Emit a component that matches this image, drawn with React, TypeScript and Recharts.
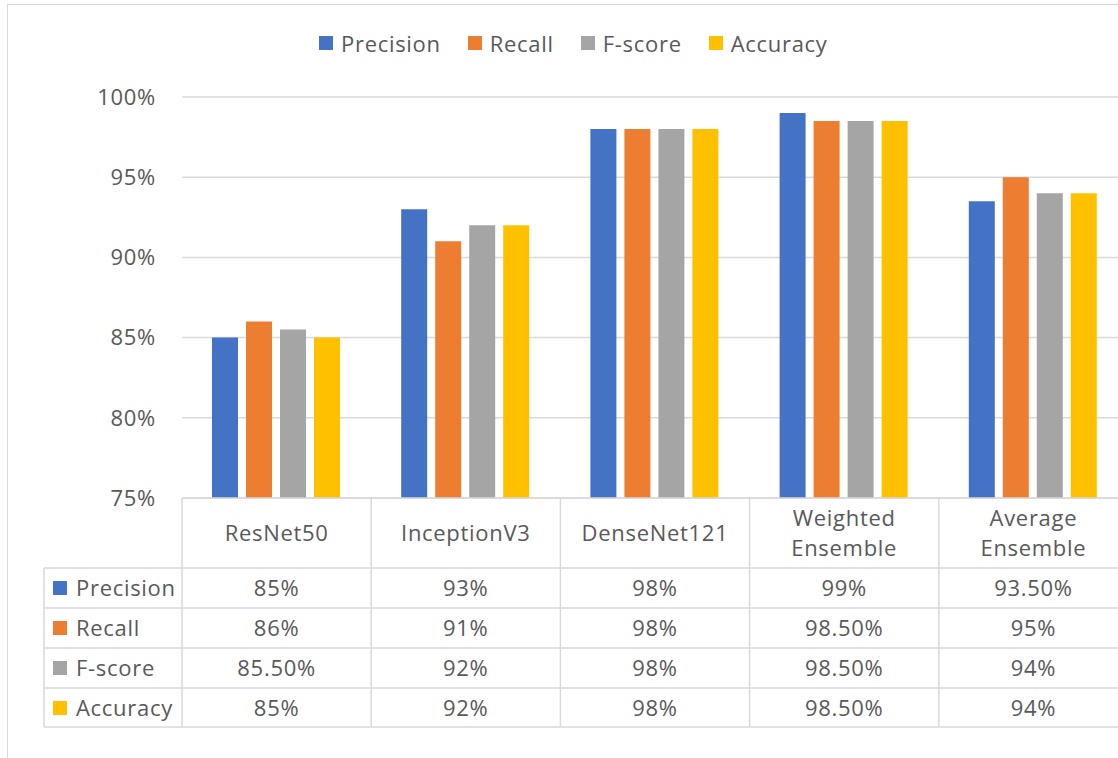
import { BarChart, Bar, XAxis, YAxis, CartesianGrid } from 'recharts';

const categories = ['ResNet50', 'InceptionV3', 'DenseNet121', 'Weighted Ensemble', 'Average Ensemble'];
const precision = [85, 93, 98, 99, 93.5];
const recall = [86, 91, 98, 98.5, 95];
const fScore = [85.5, 92, 98, 98.5, 94];
const accuracy = [85, 92, 98, 98.5, 94];
const yTicks = [75, 80, 85, 90, 95, 100];

const series = [
  { key: 'precision', name: 'Precision', color: '#4472C4', values: precision },
  { key: 'recall', name: 'Recall', color: '#ED7D31', values: recall },
  { key: 'fScore', name: 'F-score', color: '#A5A5A5', values: fScore },
  { key: 'accuracy', name: 'Accuracy', color: '#FFC000', values: accuracy },
];

const data = categories.map((name, i) => {
  const row: Record<string, any> = { name };
  series.forEach((s) => (row[s.key] = s.values[i]));
  return row;
});

// layout
const W = 1140;
const H = 758;
const AXIS_W = 182;
const PLOT_RIGHT = 1128;
const BAND = (PLOT_RIGHT - AXIS_W) / categories.length;
const TABLE_H = 229;
const HEADER_H = 70;
const ROW_H = 40;
const TABLE_LEFT = 44;

const FONT = '"Open Sans", sans-serif';
const FS = 22;
const LS = 0.7;
const TEXT = '#595959';
const LINE = '#D9D9D9';

const fmt = (v: number) => (Number.isInteger(v) ? `${v}%` : `${v.toFixed(2)}%`);

function TableTick(props: any) {
  const { x, y, payload, index } = props;
  const left = x - BAND / 2;
  const right = x + BAND / 2;
  const words: string[] = String(payload.value).split(' ');
  const rowLines = [0, 1, 2, 3, 4].map((i) => y + HEADER_H + i * ROW_H - (i === 4 ? 1 : 0));
  const rowMid = (i: number) => y + HEADER_H + i * ROW_H + ROW_H / 2 - 1;

  return (
    <g fontFamily={FONT} fontSize={FS} fill={TEXT} letterSpacing={LS}>
      {index === 0 && (
        <g>
          <line x1={left} x2={left} y1={y} y2={y + TABLE_H} stroke={LINE} strokeWidth={1.5} />
          <line x1={TABLE_LEFT} x2={TABLE_LEFT} y1={y + HEADER_H} y2={y + TABLE_H} stroke={LINE} strokeWidth={1.5} />
          {rowLines.map((ly, i) => (
            <line key={i} x1={TABLE_LEFT} x2={left} y1={ly} y2={ly} stroke={LINE} strokeWidth={1.5} />
          ))}
          {series.map((s, i) => (
            <g key={s.key}>
              <rect x={TABLE_LEFT + 9} y={rowMid(i) - 6} width={14} height={14} fill={s.color} />
              <text x={TABLE_LEFT + 32} y={rowMid(i)} dominantBaseline="central" fill={TEXT}>
                {s.name}
              </text>
            </g>
          ))}
        </g>
      )}
      <line x1={right} x2={right} y1={y} y2={y + TABLE_H} stroke={LINE} strokeWidth={1.5} />
      {rowLines.map((ly, i) => (
        <line key={i} x1={left} x2={right} y1={ly} y2={ly} stroke={LINE} strokeWidth={1.5} />
      ))}
      {words.length === 1 ? (
        <text x={x} y={y + HEADER_H / 2 - 1} textAnchor="middle" dominantBaseline="central" fill={TEXT}>
          {words[0]}
        </text>
      ) : (
        words.map((w, i) => (
          <text key={i} x={x} y={y + 19 + i * 30} textAnchor="middle" dominantBaseline="central" fill={TEXT}>
            {w}
          </text>
        ))
      )}
      {series.map((s, i) => (
        <text key={s.key} x={x} y={rowMid(i)} textAnchor="middle" dominantBaseline="central" fill={TEXT}>
          {fmt(s.values[payload.index ?? index])}
        </text>
      ))}
    </g>
  );
}

export default function App() {
  return (
    <div
      style={{
        position: 'absolute',
        left: 0,
        top: 0,
        width: 1118,
        height: 758,
        overflow: 'hidden',
        background: '#fff',
        fontFamily: FONT,
      }}
    >
      <div
        style={{
          position: 'absolute',
          left: 7,
          top: 4,
          width: 1200,
          height: 900,
          borderLeft: `1.5px solid ${LINE}`,
          borderTop: `1.5px solid ${LINE}`,
        }}
      />
      <div
        style={{
          position: 'absolute',
          left: 319,
          top: 28,
          display: 'flex',
          alignItems: 'center',
          gap: 27,
          fontSize: FS,
          letterSpacing: LS,
          color: TEXT,
          lineHeight: '30px',
        }}
      >
        {series.map((s) => (
          <div key={s.key} style={{ display: 'flex', alignItems: 'center' }}>
            <span style={{ width: 14, height: 14, background: s.color, marginRight: 8, display: 'inline-block' }} />
            <span>{s.name}</span>
          </div>
        ))}
      </div>
      <div style={{ position: 'absolute', left: 0, top: 0 }}>
        <BarChart
          width={W}
          height={H}
          data={data}
          margin={{ top: 97, right: W - PLOT_RIGHT, bottom: 31, left: 0 }}
          barCategoryGap={30}
          barGap={8}
        >
          <CartesianGrid vertical={false} stroke={LINE} strokeWidth={1.5} />
          <YAxis
            width={AXIS_W}
            domain={[75, 100]}
            ticks={yTicks}
            tickFormatter={(v: number) => `${v}%`}
            axisLine={false}
            tickLine={false}
            tickSize={0}
            tickMargin={26}
            tick={{ fontSize: FS, fill: TEXT, fontFamily: FONT, letterSpacing: LS }}
          />
          <XAxis
            dataKey="name"
            height={TABLE_H}
            axisLine={{ stroke: LINE, strokeWidth: 1.5 }}
            tickLine={false}
            tickSize={0}
            tickMargin={0}
            interval={0}
            tick={<TableTick />}
          />
          {series.map((s) => (
            <Bar key={s.key} dataKey={s.key} name={s.name} fill={s.color} isAnimationActive={false} />
          ))}
        </BarChart>
      </div>
    </div>
  );
}
